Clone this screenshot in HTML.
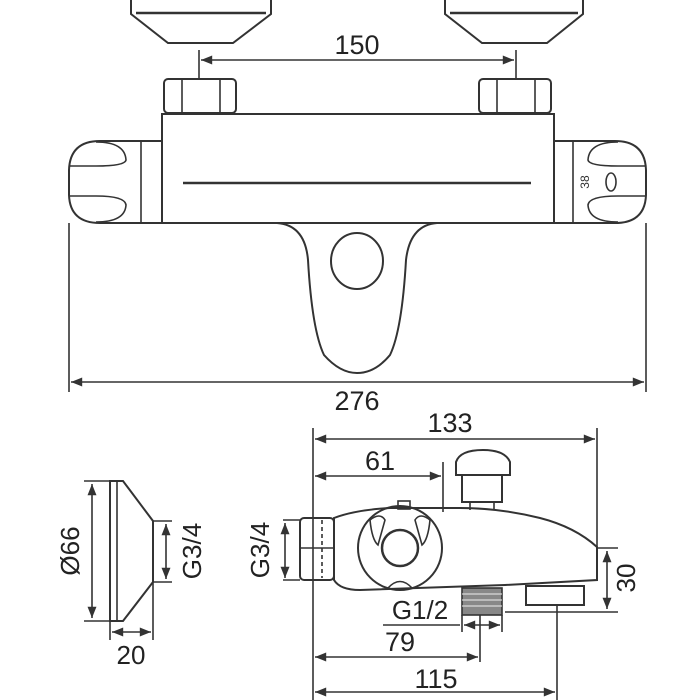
<!DOCTYPE html>
<html><head><style>body{margin:0;background:#fff}svg{display:block}</style></head><body>
<svg width="700" height="700" viewBox="0 0 700 700" xmlns="http://www.w3.org/2000/svg" font-family="Liberation Sans, sans-serif" fill="none" stroke="#333" stroke-width="1.6">
<defs><marker id="a" viewBox="0 0 10 10" refX="10" refY="5" markerWidth="9" markerHeight="7" orient="auto-start-reverse"><path d="M0,1 L10,5 L0,9z" fill="#333" stroke="none"/></marker></defs>
<!-- flanges -->
<path d="M131,0 V14 L168,43 H233 L271,14 V0" stroke-width="2"/><line x1="136" y1="13" x2="266" y2="13" stroke-width="2.5"/>
<path d="M445,0 V14 L482,43 H547 L583,14 V0" stroke-width="2"/><line x1="450" y1="13" x2="578" y2="13" stroke-width="2.5"/>
<!-- 150 -->
<text x="357" y="54" font-size="27" fill="#222" stroke="none" text-anchor="middle">150</text>
<line x1="199" y1="50" x2="199" y2="80"/><line x1="516" y1="50" x2="516" y2="80"/>
<line x1="201" y1="60" x2="514" y2="60" marker-start="url(#a)" marker-end="url(#a)"/>
<!-- nuts -->
<rect x="164" y="79" width="72" height="34" rx="4" stroke-width="2"/><line x1="182" y1="79" x2="182" y2="113"/><line x1="220" y1="79" x2="220" y2="113"/>
<rect x="479" y="79" width="72" height="34" rx="4" stroke-width="2"/><line x1="497" y1="79" x2="497" y2="113"/><line x1="535" y1="79" x2="535" y2="113"/>
<!-- body -->
<rect x="162" y="114" width="392" height="109" stroke-width="2"/>
<line x1="183" y1="183" x2="531" y2="183" stroke-width="2.5"/>
<!-- handles -->
<path d="M162,223 H100 Q70,223 69,195 V170 Q70,141 100,141 H162" stroke-width="2"/>
<line x1="141" y1="141" x2="141" y2="223"/>
<path d="M96,142 Q125,142 126,160 Q125,166 96,166 H70"/><path d="M96,222 Q125,222 126,205 Q125,196 96,196 H70"/>
<path d="M554,141 H615 Q645,141 646,170 V195 Q645,223 615,223 H554" stroke-width="2"/>
<line x1="573" y1="141" x2="573" y2="223"/>
<path d="M618,142 Q589,142 588,160 Q589,166 618,166 H645"/><path d="M618,222 Q589,222 588,205 Q589,196 618,196 H645"/>
<text x="586" y="182" font-size="12" fill="#333" stroke="none" transform="rotate(-90 586 182)" text-anchor="middle" dominant-baseline="middle">38</text>
<ellipse cx="611" cy="182" rx="5" ry="9"/>
<!-- lobe -->
<path d="M277,223 Q305,225 308,260 Q312,330 324,355 Q340,373 357,373 Q375,373 390,355 Q402,330 406,260 Q410,225 437,223" stroke-width="2"/>
<ellipse cx="357" cy="261" rx="26" ry="28" stroke-width="2"/>
<!-- 276 -->
<line x1="69" y1="223" x2="69" y2="392"/><line x1="646" y1="223" x2="646" y2="392"/>
<line x1="71" y1="382" x2="644" y2="382" marker-start="url(#a)" marker-end="url(#a)"/>
<text x="357" y="410" font-size="27" fill="#222" stroke="none" text-anchor="middle">276</text>
<!-- side view dims -->
<text x="450" y="432" font-size="27" fill="#222" stroke="none" text-anchor="middle">133</text>
<line x1="313" y1="428" x2="313" y2="700"/><line x1="597" y1="428" x2="597" y2="548"/>
<line x1="315" y1="439" x2="595" y2="439" marker-start="url(#a)" marker-end="url(#a)"/>
<text x="380" y="470" font-size="27" fill="#222" stroke="none" text-anchor="middle">61</text>
<line x1="443" y1="462" x2="443" y2="512"/>
<line x1="315" y1="476" x2="441" y2="476" marker-start="url(#a)" marker-end="url(#a)"/>
<!-- knob -->
<path d="M456,475 V462 Q460,450 483,450 Q505,450 510,462 V475 Z" stroke-width="2"/>
<rect x="462" y="475" width="40" height="27" stroke-width="2"/>
<line x1="470" y1="502" x2="470" y2="510"/><line x1="494" y1="502" x2="494" y2="510"/>
<!-- body side -->
<path d="M334,518 Q355,510 390,508 L460,508 Q500,508 540,518 Q575,527 597,547 V580 L505,585 L360,590 Q340,590 334,580 Z" stroke-width="2"/>
<rect x="398" y="501" width="12" height="8"/>
<rect x="300" y="518" width="34" height="62" rx="4" stroke-width="2"/>
<line x1="300" y1="548" x2="334" y2="548"/><line x1="322" y1="520" x2="322" y2="578" stroke-dasharray="4 3"/>
<circle cx="400" cy="548" r="42" stroke-width="2"/><circle cx="400" cy="548" r="18" stroke-width="2.5"/>
<path d="M370,520 Q380,512 385,520 L378,545 Q372,540 370,520Z"/><path d="M430,520 Q420,512 415,520 L422,545 Q428,540 430,520Z"/>
<path d="M388,588 Q400,575 412,588"/>
<!-- G3/4 side -->
<line x1="283" y1="520" x2="300" y2="520"/><line x1="283" y1="580" x2="300" y2="580"/>
<line x1="285" y1="523" x2="285" y2="578" marker-start="url(#a)" marker-end="url(#a)"/>
<text x="262" y="550" font-size="26" fill="#222" stroke="none" text-anchor="middle" dominant-baseline="middle" transform="rotate(-90 262 550)">G3/4</text>
<!-- 30 -->
<line x1="597" y1="548" x2="618" y2="548"/><line x1="505" y1="612" x2="618" y2="612"/>
<line x1="607" y1="551" x2="607" y2="609" marker-start="url(#a)" marker-end="url(#a)"/>
<text x="628" y="578" font-size="26" fill="#222" stroke="none" text-anchor="middle" dominant-baseline="middle" transform="rotate(-90 628 578)">30</text>
<rect x="526" y="586" width="58" height="19" stroke-width="2"/>
<line x1="557" y1="605" x2="557" y2="700"/>
<!-- thread -->
<rect x="462" y="588" width="40" height="27" fill="#888" stroke="#333"/>
<g stroke="#eee" stroke-width="1"><line x1="462" y1="594" x2="502" y2="594"/><line x1="462" y1="600" x2="502" y2="600"/><line x1="462" y1="606" x2="502" y2="606"/></g>
<text x="420" y="619" font-size="26" fill="#222" stroke="none" text-anchor="middle">G1/2</text>
<line x1="383" y1="625" x2="460" y2="625"/>
<line x1="462" y1="615" x2="462" y2="632"/><line x1="502" y1="615" x2="502" y2="632"/>
<line x1="464" y1="625" x2="500" y2="625" marker-start="url(#a)" marker-end="url(#a)"/>
<line x1="480" y1="615" x2="480" y2="662"/>
<text x="400" y="651" font-size="27" fill="#222" stroke="none" text-anchor="middle">79</text>
<line x1="315" y1="657" x2="478" y2="657" marker-start="url(#a)" marker-end="url(#a)"/>
<text x="436" y="688" font-size="27" fill="#222" stroke="none" text-anchor="middle">115</text>
<line x1="315" y1="692" x2="555" y2="692" marker-start="url(#a)" marker-end="url(#a)"/>
<!-- left flange profile -->
<path d="M110,481 H123 L153,521 V582 L123,621 H110 Z" stroke-width="2"/>
<line x1="117" y1="481" x2="117" y2="621"/>
<line x1="84" y1="481" x2="110" y2="481"/><line x1="84" y1="621" x2="110" y2="621"/>
<line x1="92" y1="484" x2="92" y2="618" marker-start="url(#a)" marker-end="url(#a)"/>
<text x="72" y="551" font-size="26" fill="#222" stroke="none" text-anchor="middle" dominant-baseline="middle" transform="rotate(-90 72 551)">Ø66</text>
<line x1="153" y1="521" x2="172" y2="521"/><line x1="153" y1="582" x2="172" y2="582"/>
<line x1="166" y1="524" x2="166" y2="579" marker-start="url(#a)" marker-end="url(#a)"/>
<text x="194" y="551" font-size="26" fill="#222" stroke="none" text-anchor="middle" dominant-baseline="middle" transform="rotate(-90 194 551)">G3/4</text>
<line x1="110" y1="621" x2="110" y2="640"/><line x1="153" y1="582" x2="153" y2="640"/>
<line x1="112" y1="632" x2="151" y2="632" marker-start="url(#a)" marker-end="url(#a)"/>
<text x="131" y="664" font-size="26" fill="#222" stroke="none" text-anchor="middle">20</text>
</svg>
</body></html>
